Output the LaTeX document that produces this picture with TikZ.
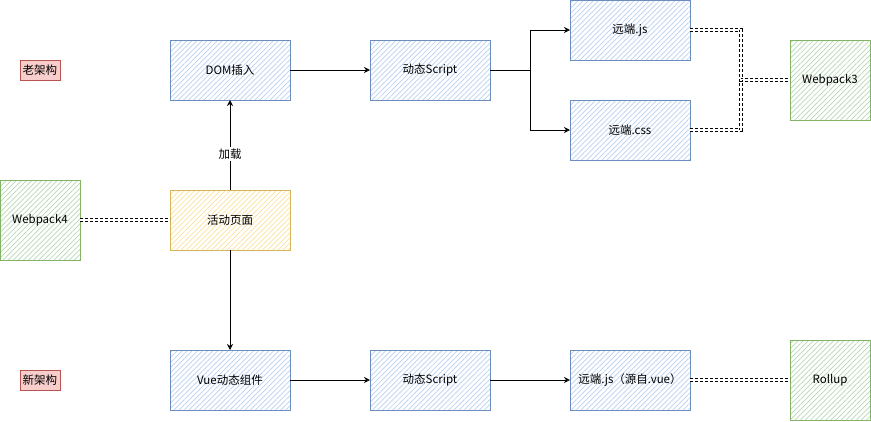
\documentclass[tikz,border=0pt]{standalone}
\usepackage{fontspec}
\setmainfont{Noto Sans CJK SC}
\usetikzlibrary{patterns.meta,arrows.meta}
\definecolor{bS}{HTML}{6C8EBF}\definecolor{bF}{HTML}{B8CFF2}
\definecolor{gS}{HTML}{82B366}\definecolor{gF}{HTML}{B5D6B0}
\definecolor{yS}{HTML}{D6B656}\definecolor{yF}{HTML}{FAE09A}
\definecolor{rS}{HTML}{B85450}\definecolor{rF}{HTML}{F8CECC}
\begin{document}
\begin{tikzpicture}[x=1pt,y=-1pt,
  font=\fontsize{11.5}{13}\selectfont,
  box/.style={draw, line width=0.9pt, inner sep=0pt, outer sep=0pt, align=center},
  hatch/.style={pattern={Lines[angle=45,distance=3.6pt,line width=0.7pt]}},
  bluebox/.style={box, hatch, draw=bS, minimum width=120pt, minimum height=60pt, pattern color=bF},
  greenbox/.style={box, hatch, draw=gS, minimum width=80pt, minimum height=80pt, pattern color=gF},
  yellowbox/.style={box, hatch, draw=yS, minimum width=120pt, minimum height=60pt, pattern color=yF},
  tag/.style={box, draw=rS, fill=rF, line width=0.8pt, minimum width=40pt, minimum height=20pt},
  arr/.style={line width=0.9pt, -{Stealth[open,length=6pt,width=6pt]}},
  dbl/.style={draw=black, double=white, double distance=1.8pt, line width=0.7pt, dash pattern=on 3pt off 2pt}]
\useasboundingbox (0,0) rectangle (871,421);
\node[tag] (old) at (40,70) {老架构};
\node[tag] (new) at (40,380) {新架构};
\node[bluebox] (dom) at (230,70) {DOM插入};
\node[bluebox] (dyn1) at (430,70) {动态Script};
\node[bluebox] (js) at (630,30) {远端.js};
\node[bluebox] (css) at (630,130) {远端.css};
\node[greenbox] (wp3) at (830,80) {Webpack3};
\node[greenbox] (wp4) at (40,220) {Webpack4};
\node[yellowbox] (page) at (230,220) {活动页面};
\node[bluebox] (vue) at (230,380) {Vue动态组件};
\node[bluebox] (dyn2) at (430,380) {动态Script};
\node[bluebox] (vjs) at (630,380) {远端.js（源自.vue）};
\node[greenbox] (roll) at (830,380) {Rollup};
\coordinate (split) at (530,70);
\coordinate (merge) at (741,80);
\draw[arr] (page) -- node[pos=0.4, fill=white, inner sep=2pt] {加载} (dom);
\draw[arr] (dom) -- (dyn1);
\draw[line width=0.9pt] (dyn1.east) -- (split);
\draw[arr] (split) |- (js.west);
\draw[arr] (split) |- (css.west);
\draw[arr] (page) -- (vue);
\draw[arr] (vue) -- (dyn2);
\draw[arr] (dyn2) -- (vjs);
\draw[dbl] (js.east) -| (merge) -- (wp3.west);
\draw[dbl] (css.east) -| (merge);
\draw[dbl] (wp4) -- (page);
\draw[dbl] (vjs) -- (roll);
\end{tikzpicture}
\end{document}
